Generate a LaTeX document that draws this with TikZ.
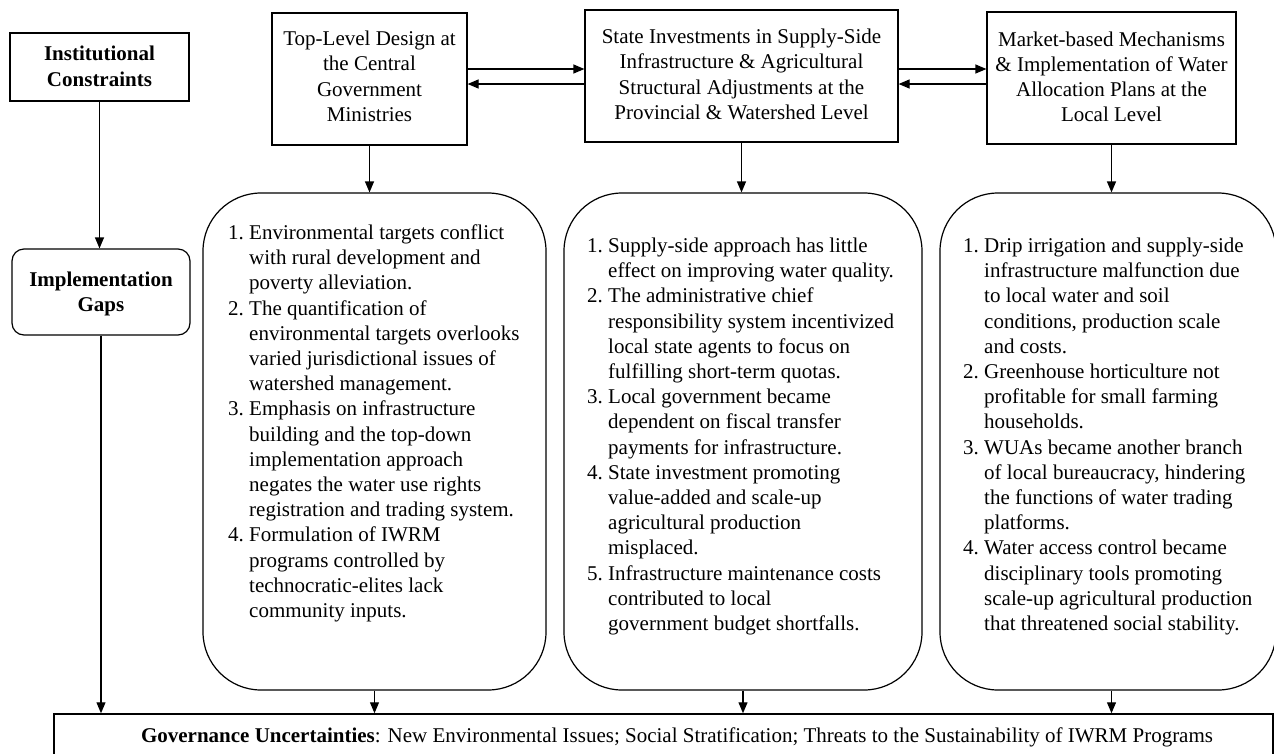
\documentclass[tikz,border=0pt]{standalone}
\usepackage{fontspec}
\setmainfont{Liberation Serif}
\usetikzlibrary{arrows.meta}
\newcommand\itemnum[1]{\makebox[1em][l]{#1}}
\newcommand\boxtext[2][0pt]{\raisebox{0pt}[\height][\dimexpr\depth+#1\relax]{\begin{tabular}{@{}c@{}}#2\end{tabular}}}
\begin{document}
\begin{tikzpicture}[x=1pt,y=-1pt,
  every node/.style={font=\fontsize{21}{25.2}\selectfont, inner sep=0pt},
  sqbox/.style={draw, line width=1.2pt},
  igbox/.style={draw, line width=1.2pt, rounded corners=12pt},
  rbox/.style={draw, line width=1.2pt, rounded corners=58pt},
  gubox/.style={draw, line width=1.5pt},
  listtext/.style={anchor=base west},
  arr/.style={line width=1.2pt, -{Triangle[length=11pt,width=9pt]}},
  ]
\useasboundingbox (0,0) rectangle (1274,753);

% top boxes
\node[sqbox, minimum width=179pt, minimum height=68pt] (ic) at (99.5,67)
  {\boxtext[-3pt]{\bfseries Institutional\\\bfseries Constraints}};
\node[sqbox, minimum width=195pt, minimum height=132pt] (tl) at (369.5,79)
  {\boxtext[1pt]{Top-Level Design at\\the Central\\Government\\Ministries}};
\node[sqbox, minimum width=313pt, minimum height=132pt] (mt) at (741.5,76)
  {\boxtext[-1pt]{State Investments in Supply-Side\\Infrastructure \& Agricultural\\Structural Adjustments at the\\Provincial \& Watershed Level}};
\node[sqbox, minimum width=249pt, minimum height=132pt] (rt) at (1111.5,78)
  {\boxtext[-2pt]{Market-based Mechanisms\\\& Implementation of Water\\Allocation Plans at the\\Local Level}};

\node[igbox, minimum width=178pt, minimum height=86pt] (ig) at (101,292)
  {\boxtext[-4pt]{\bfseries Implementation\\\bfseries Gaps}};

% rounded boxes
\node[rbox, minimum width=343pt, minimum height=497pt] (lb) at (374.5,441.5) {};
\node[rbox, minimum width=358pt, minimum height=497pt] (mb) at (743,441.5) {};
\node[rbox, minimum width=336pt, minimum height=497pt] (rb) at (1108,441.5) {};

\node[listtext] (lbt) at (228,239.5) {\begin{tabular}[t]{@{}l@{}l@{}}
\itemnum{1.} & Environmental targets conflict\\
 & with rural development and\\
 & poverty alleviation.\\
\itemnum{2.} & The quantification of\\
 & environmental targets overlooks\\
 & varied jurisdictional issues of\\
 & watershed management.\\
\itemnum{3.} & Emphasis on infrastructure\\
 & building and the top-down\\
 & implementation approach\\
 & negates the water use rights\\
 & registration and trading system.\\
\itemnum{4.} & Formulation of IWRM\\
 & programs controlled by\\
 & technocratic-elites lack\\
 & community inputs.
\end{tabular}};

\node[listtext] (mbt) at (587,252.5) {\begin{tabular}[t]{@{}l@{}l@{}}
\itemnum{1.} & Supply-side approach has little\\
 & effect on improving water quality.\\
\itemnum{2.} & The administrative chief\\
 & responsibility system incentivized\\
 & local state agents to focus on\\
 & fulfilling short-term quotas.\\
\itemnum{3.} & Local government became\\
 & dependent on fiscal transfer\\
 & payments for infrastructure.\\
\itemnum{4.} & State investment promoting\\
 & value-added and scale-up\\
 & agricultural production\\
 & misplaced.\\
\itemnum{5.} & Infrastructure maintenance costs\\
 & contributed to local\\
 & government budget shortfalls.
\end{tabular}};

\node[listtext] (rbt) at (963,252.5) {\begin{tabular}[t]{@{}l@{}l@{}}
\itemnum{1.} & Drip irrigation and supply-side\\
 & infrastructure malfunction due\\
 & to local water and soil\\
 & conditions, production scale\\
 & and costs.\\
\itemnum{2.} & Greenhouse horticulture not\\
 & profitable for small farming\\
 & households.\\
\itemnum{3.} & WUAs became another branch\\
 & of local bureaucracy, hindering\\
 & the functions of water trading\\
 & platforms.\\
\itemnum{4.} & Water access control became\\
 & disciplinary tools promoting\\
 & scale-up agricultural production\\
 & that threatened social stability.
\end{tabular}};

% bottom box
\node[gubox, minimum width=1219pt, minimum height=80pt] (gu) at (663.5,754) {};
\node (gut) at (677,737) {\textbf{Governance Uncertainties}: New Environmental Issues; Social Stratification; Threats to the Sustainability of IWRM Programs};

% connectors
\coordinate (ya) at (0,69);
\coordinate (yb) at (0,84);
\draw[arr] (tl.east |- ya) -- (mt.west |- ya);
\draw[arr] (mt.west |- yb) -- (tl.east |- yb);
\draw[arr] (mt.east |- ya) -- (rt.west |- ya);
\draw[arr] (rt.west |- yb) -- (mt.east |- yb);

\draw[arr] (ic.south) -- (ic.south |- ig.north);
\draw[arr] (ig.south) -- (ig.south |- gu.north);
\draw[arr] (tl.south) -- (tl.south |- lb.north);
\draw[arr] (mt.south) -- (mt.south |- mb.north);
\draw[arr] (rt.south) -- (rt.south |- rb.north);
\draw[arr] (lb.south) -- (lb.south |- gu.north);
\draw[arr] (mb.south) -- (mb.south |- gu.north);
\draw[arr] (rt.south |- rb.south) -- (rt.south |- gu.north);
\end{tikzpicture}
\end{document}
